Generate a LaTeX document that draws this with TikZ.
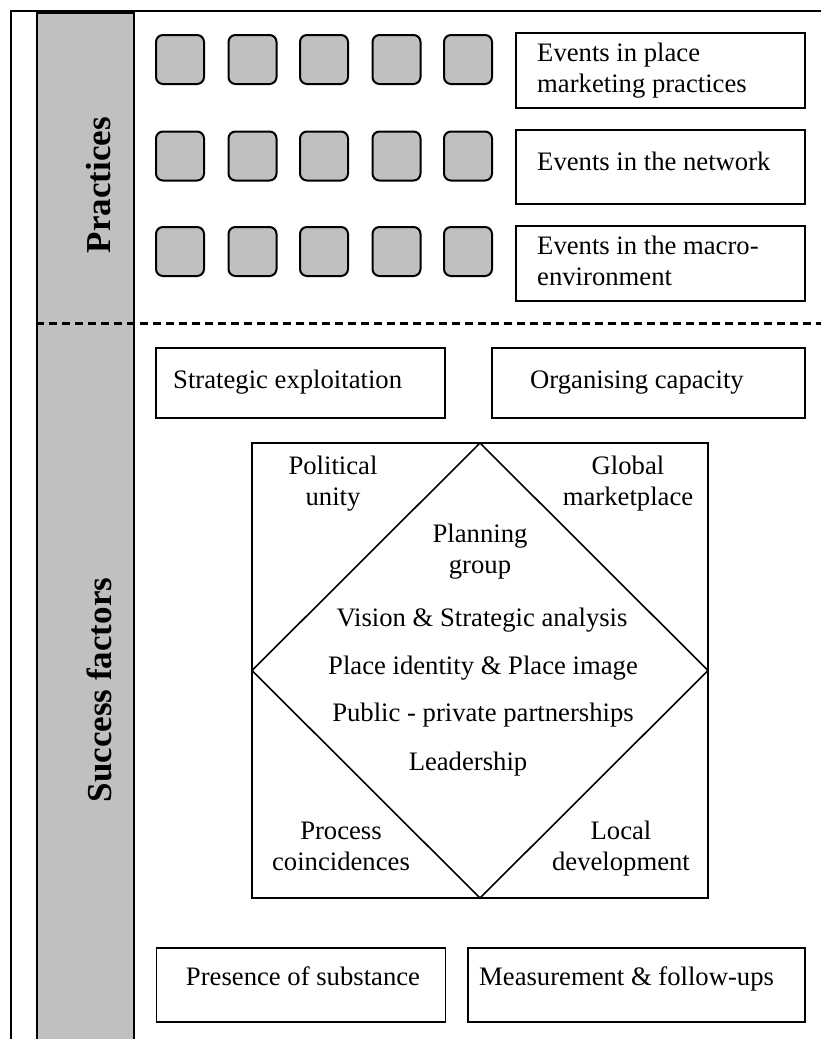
\documentclass[tikz,border=0pt]{standalone}
\usepackage{fontspec}
\setmainfont{Liberation Serif}
\definecolor{barg}{HTML}{C0C0C0}
\newcommand{\bodyfont}{\fontsize{26.67}{30.67}\selectfont}
\newcommand{\labfont}{\fontsize{35}{40}\selectfont\bfseries}
\begin{document}
\begin{tikzpicture}[x=1pt,y=-1pt,
  tbox/.style={draw, line width=1.8pt, inner sep=0pt, outer sep=0pt},
  gbox/.style={draw, fill=barg, rounded corners=7pt, minimum width=48pt, minimum height=49pt, line width=2pt, inner sep=0pt},
  txt/.style={inner sep=0pt, font=\bodyfont, anchor=base},
  ctxt/.style={txt, align=center},
  ltxt/.style={txt, align=left, anchor=base west},
  lab/.style={inner sep=0pt, font=\labfont, rotate=90},
  divider/.style={line width=3pt, dash pattern=on 8pt off 5pt},
  thin/.style={line width=1.6pt}]
\useasboundingbox (0,0) rectangle (821,1039);
% frame
\coordinate (fB) at (11,1045);
\coordinate (fTL) at (11,11);
\coordinate (fR) at (830,11);
\draw[line width=2pt] (fB) -- (fTL) -- (fR);
% gray bar
\node[draw, fill=barg, line width=1.8pt, minimum width=97pt, minimum height=1040pt, anchor=north west, inner sep=0pt] (bar) at (36,12) {};
\node[lab] (lp) at (99,185) {Practices};
\node[lab] (ls) at (99,690) {Success factors};
% dashed divider
\coordinate (dL) at (36,323);
\coordinate (dR) at (825,323);
\draw[divider] (dL) -- (dR);
% rounded boxes
\foreach \r/\y in {1/59.5,2/156,3/251.5}{
  \foreach \c/\x in {1/180,2/252.5,3/324,4/396.5,5/468}{
    \node[gbox] (g\r\c) at (\x,\y) {};
  }
}
% event boxes
\node[tbox, minimum width=289pt, minimum height=75pt] (ev1) at (660.5,70.5) {};
\node[tbox, minimum width=289pt, minimum height=74pt] (ev2) at (660.5,167) {};
\node[tbox, minimum width=289pt, minimum height=75pt] (ev3) at (660.5,263.5) {};
\node[ltxt] (t1) at (537,92) {Events in place\\marketing practices};
\node[ltxt] (t2) at (537,170) {Events in the network};
\node[ltxt] (t3) at (537,285) {Events in the macro-\\environment};
% success factor boxes
\node[tbox, minimum width=289pt, minimum height=70pt] (se) at (300.5,383) {};
\node[tbox, minimum width=313pt, minimum height=70pt] (oc) at (648.5,383) {};
\node[ltxt] (tse) at (173,388) {Strategic exploitation};
\node[ltxt] (toc) at (530,388) {Organising capacity};
% square and diamond
\node[tbox, thin, minimum width=456pt, minimum height=455pt] (sq) at (480,670.5) {};
\coordinate (dT) at (sq.north);
\coordinate (dE) at (sq.east);
\coordinate (dS) at (sq.south);
\coordinate (dW) at (sq.west);
\draw[thin, line join=miter] (dT) -- (dE) -- (dS) -- (dW) -- cycle;
\node[ctxt] (pu) at (333,505) {Political\\unity};
\node[ctxt] (gm) at (628,505) {Global\\marketplace};
\node[ctxt] (pg) at (480,573) {Planning\\group};
\node[txt] (vs) at (482,626) {Vision \& Strategic analysis};
\node[txt] (pi) at (483,674) {Place identity \& Place image};
\node[txt] (pp) at (483,721) {Public - private partnerships};
\node[txt] (le) at (468,770) {Leadership};
\node[ctxt] (pc) at (341,870) {Process\\coincidences};
\node[ctxt] (ld) at (621,870) {Local\\development};
% bottom boxes
\node[tbox, minimum width=289pt, minimum height=74pt] (ps) at (301,985) {};
\node[tbox, minimum width=337pt, minimum height=74pt] (mf) at (636.5,985) {};
\node[txt] (tps) at (303,985) {Presence of substance};
\node[ltxt] (tmf) at (479,985) {Measurement \& follow-ups};
\end{tikzpicture}
\end{document}
